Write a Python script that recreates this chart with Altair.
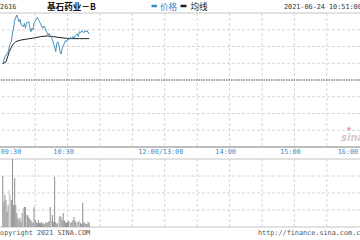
import altair as alt
import pandas as pd

# ---------------- data ----------------
# minutes after 09:30 (trading time) and last price (HKD)
price_t = [0, 2, 5, 7, 8, 9, 10, 11, 13, 14, 15, 16, 17, 19, 20, 21, 22, 24, 25, 26,
           27, 28, 29, 31, 32, 33, 34, 36, 37, 38, 39, 40, 42, 43, 44, 45, 46, 48, 49, 50,
           51, 52, 53, 54, 55, 57, 58, 59, 60, 61, 63, 64, 65, 66, 67, 69, 70, 71, 72, 73,
           75, 76, 77, 78, 80]
price_v = [10.596, 10.639, 10.669, 10.721, 10.729, 10.781, 10.810, 10.858, 10.888, 10.868,
           10.848, 10.862, 10.828, 10.818, 10.838, 10.809, 10.842, 10.848, 10.815, 10.788,
           10.809, 10.799, 10.842, 10.862, 10.874, 10.862, 10.848, 10.822, 10.809, 10.822,
           10.815, 10.794, 10.769, 10.779, 10.763, 10.759, 10.739, 10.699, 10.669, 10.719,
           10.729, 10.709, 10.669, 10.655, 10.689, 10.719, 10.735, 10.729, 10.743, 10.739,
           10.755, 10.743, 10.759, 10.749, 10.763, 10.775, 10.759, 10.788, 10.782, 10.794,
           10.782, 10.794, 10.788, 10.794, 10.775]
# average price line
avg_t = [0, 3, 6, 9, 12, 17, 23, 29, 35, 41, 47, 53, 59, 65, 71, 80]
avg_v = [10.596, 10.609, 10.669, 10.709, 10.729, 10.739, 10.745, 10.751, 10.759, 10.763,
         10.759, 10.753, 10.749, 10.747, 10.747, 10.747]
# volume per minute from 09:30 (thousand shares)
vol_v = [300, 150, 188, 159, 88, 129, 218, 188, 159, 400,
         129, 288, 129, 82, 53, 41, 53, 29, 82, 112,
         118, 118, 71, 71, 59, 47, 41, 29, 24, 118,
         41, 29, 24, 41, 24, 24, 29, 18, 24, 18,
         29, 24, 29, 35, 118, 41, 71, 29, 296, 29,
         18, 24, 59, 65, 59, 41, 82, 41, 29, 24,
         29, 35, 35, 24, 29, 41, 59, 35, 24, 35,
         29, 41, 24, 18, 143, 29, 24, 18, 18, 31, 24]
vol_shade = ["d", "d", "d", "d", "d", "d", "l", "l", "d", "d",
             "d", "d", "d", "d", "d", "d", "d", "d", "d", "l",
             "d", "d", "l", "d", "d", "d", "d", "d", "d", "d",
             "d", "d", "d", "d", "d", "d", "d", "d", "d", "d",
             "d", "d", "d", "d", "d", "l", "d", "d", "d", "d",
             "d", "d", "l", "d", "d", "d", "d", "d", "d", "d",
             "d", "d", "l", "d", "d", "d", "d", "d", "d", "l",
             "d", "l", "d", "d", "d", "d", "d", "d", "d", "d", "d"]
vol_t = list(range(len(vol_v)))

price_grid = [10.2, 10.3, 10.4, 10.6, 10.7, 10.8]
prev_close = [10.5]
price_lo, price_hi = 10.1, 10.9
vol_grid = [100, 200, 300]
vol_lo, vol_hi = 0, 400
grid_t = [30, 60, 90, 120, 150, 180, 210, 240, 270, 300]
tick_t = [0, 60, 150, 210, 270, 330]
tick_lab = ["09:30", "10:30", "12:00/13:00", "14:00", "15:00", "16:00"]

# ---------------- scales ----------------
xs = alt.Scale(domain=[2.07, 326.1])
ps = alt.Scale(domain=[price_lo, price_hi], range=[147, 13])
vs = alt.Scale(domain=[vol_lo, vol_hi], range=[227, 159])

MONO = "DejaVu Sans Mono"
CJK = "Noto Sans CJK SC"
BLUE = "#3a8bbd"
GRID = "#d6d6d6"
BORDER = "#c4c4c4"

def X(f="t:Q"):
    return alt.X(f, scale=xs, axis=None)

layers = []

# price panel grid
layers.append(alt.Chart(pd.DataFrame({"p": price_grid})).mark_rule(
    color=GRID, strokeDash=[3, 2], strokeWidth=1).encode(
    y=alt.Y("p:Q", scale=ps, axis=None)))
n = len(grid_t)
layers.append(alt.Chart(pd.DataFrame({"t": grid_t, "hi": [price_hi] * n, "lo": [price_lo] * n}))
              .mark_rule(color=GRID, strokeDash=[3, 2], strokeWidth=1).encode(
    x=X(), y=alt.Y("hi:Q", scale=ps, axis=None), y2="lo:Q"))
# volume panel grid
layers.append(alt.Chart(pd.DataFrame({"v": vol_grid})).mark_rule(
    color=GRID, strokeDash=[3, 2], strokeWidth=1).encode(
    y=alt.Y("v:Q", scale=vs, axis=None)))
layers.append(alt.Chart(pd.DataFrame({"t": grid_t, "hi": [vol_hi] * n, "lo": [vol_lo] * n}))
              .mark_rule(color=GRID, strokeDash=[3, 2], strokeWidth=1).encode(
    x=X(), y=alt.Y("hi:Q", scale=vs, axis=None), y2="lo:Q"))
# borders
layers.append(alt.Chart(pd.DataFrame({"p": [price_hi]})).mark_rule(
    color=BORDER, strokeWidth=1).encode(y=alt.Y("p:Q", scale=ps, axis=None)))
layers.append(alt.Chart(pd.DataFrame({"p": [price_lo]})).mark_rule(
    color="#bdbdbd", strokeWidth=1.8).encode(y=alt.Y("p:Q", scale=ps, axis=None)))
layers.append(alt.Chart(pd.DataFrame({"v": [vol_lo, vol_hi]})).mark_rule(
    color=BORDER, strokeWidth=1).encode(y=alt.Y("v:Q", scale=vs, axis=None)))
# previous close
layers.append(alt.Chart(pd.DataFrame({"p": prev_close})).mark_rule(
    color="#444444", strokeDash=[1.5, 1], strokeWidth=1).encode(
    y=alt.Y("p:Q", scale=ps, axis=None)))

# volume bars
layers.append(alt.Chart(pd.DataFrame({"t": vol_t, "v": vol_v, "s": vol_shade})).mark_bar(
    size=1.1).encode(
    x=X(), y=alt.Y("v:Q", scale=vs, axis=None),
    color=alt.Color("s:N", scale=alt.Scale(domain=["d", "l"], range=["#999999", "#d0d0d0"]),
                    legend=None)))

# average and price lines
layers.append(alt.Chart(pd.DataFrame({"t": avg_t, "p": avg_v})).mark_line(
    color="#222222", strokeWidth=1).encode(x=X(), y=alt.Y("p:Q", scale=ps, axis=None)))
layers.append(alt.Chart(pd.DataFrame({"t": price_t, "p": price_v})).mark_line(
    color="#4690bd", strokeWidth=1).encode(x=X(), y=alt.Y("p:Q", scale=ps, axis=None)))

# time labels
tk = pd.DataFrame({"t": tick_t, "lab": tick_lab})
common = dict(font=MONO, fontSize=6.8, color=BLUE, baseline="middle")
layers.append(alt.Chart(tk.iloc[[0]]).mark_text(align="left", dx=-2, **common).encode(
    x=X(), y=alt.value(151.8), text="lab:N"))
layers.append(alt.Chart(tk.iloc[1:5]).mark_text(align="center", dx=-4, **common).encode(
    x=X(), y=alt.value(151.8), text="lab:N"))
layers.append(alt.Chart(tk.iloc[[5]]).mark_text(align="right", dx=-1, **common).encode(
    x=X(), y=alt.value(151.8), text="lab:N"))

# header
def txt(s, x, y, **kw):
    return alt.Chart(pd.DataFrame({"s": [s]})).mark_text(baseline="middle", **kw).encode(
        x=alt.value(x), y=alt.value(y), text="s:N")

layers.append(txt("02616", -4, 6.8, align="left", font=MONO, fontSize=6.8, color="#333333"))
layers.append(txt("基石药业－B", 47, 6.8, align="left", font=CJK, fontSize=8.6,
                  fontWeight="bold", color="#111111"))
layers.append(alt.Chart(pd.DataFrame({"a": [0]})).mark_rule(color=BLUE, strokeWidth=2.5).encode(
    x=alt.value(151.5), x2=alt.value(157), y=alt.value(6)))
layers.append(txt("价格", 160, 6.8, align="left", font=CJK, fontSize=8.6, color=BLUE))
layers.append(alt.Chart(pd.DataFrame({"a": [0]})).mark_rule(color="#222222", strokeWidth=2.5).encode(
    x=alt.value(180.5), x2=alt.value(186.5), y=alt.value(6)))
layers.append(txt("均线", 190.5, 6.8, align="left", font=CJK, fontSize=8.6, color="#222222"))
layers.append(txt("2021-06-24 10:51:00", 284, 6.8, align="left", font=MONO, fontSize=6.8,
                  color="#333333"))
# footer
layers.append(txt("Copyright 2021 SINA.COM", -4, 233.2, align="left", font=MONO, fontSize=6.8,
                  color="#555555"))
layers.append(txt("http://finance.sina.com.cn", 258, 233.2, align="left", font=MONO,
                  fontSize=6.8, color="#555555"))
# watermark
layers.append(txt("sina", 341, 138, align="left", font="DejaVu Sans", fontSize=10,
                  fontStyle="italic", fontWeight="bold", color="#d6c8ca"))
layers.append(txt("✺", 349, 128.5, align="center", font="DejaVu Sans", fontSize=6,
                  color="#e8a2ab"))

chart = alt.layer(*layers).resolve_scale(y="independent").properties(
    width=360, height=240, padding=0,
    autosize=alt.AutoSizeParams(type="none"),
    background="white",
).configure_view(stroke=None)

chart.save("out.html", embed_options={"renderer": "svg", "actions": False})
